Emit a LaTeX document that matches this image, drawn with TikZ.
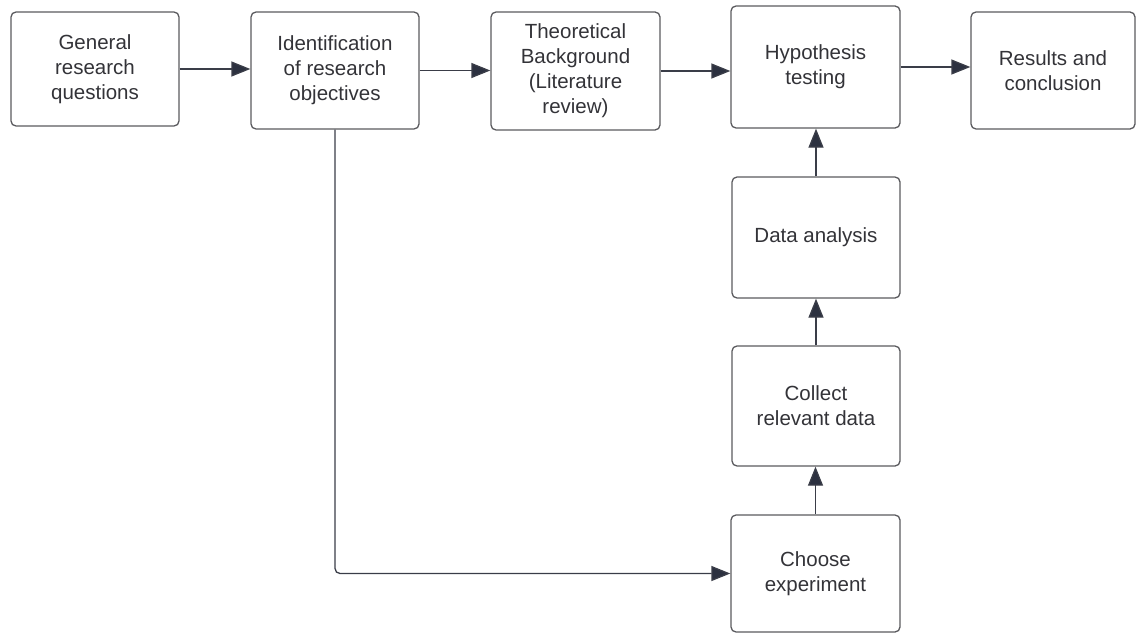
\documentclass[tikz,border=0pt]{standalone}
\usepackage{fontspec}
\setmainfont{Liberation Sans}
\usetikzlibrary{arrows.meta}
\definecolor{boxline}{HTML}{5A5A5E}
\definecolor{txt}{HTML}{333338}
\definecolor{conn}{HTML}{3A3D48}
\definecolor{tipc}{HTML}{2C3140}
\tikzset{
  box/.style={draw=boxline, line width=1.3pt, rounded corners=5pt, inner sep=0pt,
    align=center, text=txt, font=\fontsize{20.5}{25}\selectfont},
  conn/.style={draw=conn, line width=1.3pt, -{Triangle[length=19pt,width=15pt,fill=tipc]}}
}
\begin{document}
\begin{tikzpicture}[x=1pt,y=-1pt]
\useasboundingbox (0,0) rectangle (1138,634);
\node[box, minimum width=168pt, minimum height=114pt] (b1) at (95,69) {General\\research\\questions};
\node[box, minimum width=168pt, minimum height=117pt] (b2) at (335,70.5) {Identification\\of research\\objectives};
\node[box, minimum width=169pt, minimum height=118pt] (b3) at (575.5,71) {Theoretical\\Background\\(Literature\\review)};
\node[box, minimum width=169pt, minimum height=122pt] (b4) at (815.5,67) {Hypothesis\\testing};
\node[box, minimum width=164pt, minimum height=117pt] (b5) at (1053,70.5) {Results and\\conclusion};
\node[box, minimum width=168pt, minimum height=121pt] (b6) at (816,237.5) {Data analysis};
\node[box, minimum width=168pt, minimum height=120pt] (b7) at (816,406) {Collect\\relevant data};
\node[box, minimum width=169pt, minimum height=117pt] (b8) at (815.5,573.5) {Choose\\experiment};
\draw[conn] (b1.east) -- (b1.east -| b2.west);
\draw[conn] (b2.east) -- (b2.east -| b3.west);
\draw[conn] (b3.east) -- (b3.east -| b4.west);
\draw[conn] (b4.east) -- (b4.east -| b5.west);
\draw[conn] (b6.north) -- (b6.north |- b4.south);
\draw[conn] (b7.north) -- (b7.north |- b6.south);
\draw[conn] (b8.north) -- (b8.north |- b7.south);
\draw[conn, rounded corners=5pt] (b2.south) |- (b8.west);
\end{tikzpicture}
\end{document}
